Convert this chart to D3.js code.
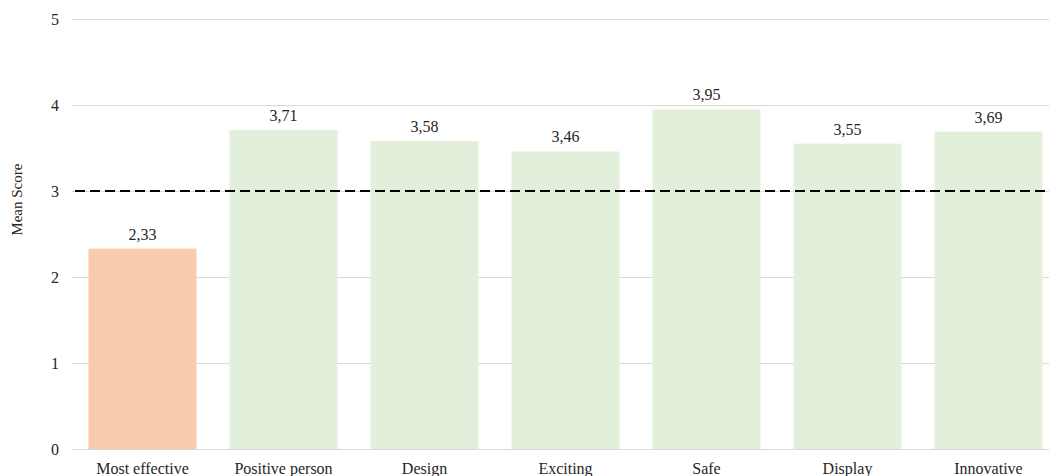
<!DOCTYPE html>
<html>
<head>
<meta charset="utf-8">
<script src="https://cdn.jsdelivr.net/npm/d3@7"></script>
<style>
  body { margin: 0; background: #fff; }
  text { font-family: "Liberation Serif", "Times New Roman", serif; fill: #262626; }
</style>
</head>
<body>
<div id="chart"></div>
<script>
const WIDTH = 1049;
const HEIGHT = 476;

const categories = ["Most effective", "Positive person", "Design", "Exciting", "Safe", "Display", "Innovative"];
const scores = [2.33, 3.71, 3.58, 3.46, 3.95, 3.55, 3.69];
const yTicks = [0, 1, 2, 3, 4, 5];
const threshold = 3;

const MARGIN = { TOP: 19, BOTTOM: 27, LEFT: 72, RIGHT: -10 };
const innerW = WIDTH - MARGIN.LEFT - MARGIN.RIGHT;
const innerH = HEIGHT - MARGIN.TOP - MARGIN.BOTTOM;

const svg = d3.select("#chart").append("svg")
    .attr("width", WIDTH)
    .attr("height", HEIGHT);

const g = svg.append("g")
    .attr("transform", `translate(${MARGIN.LEFT}, ${MARGIN.TOP})`);

const x = d3.scaleBand()
    .domain(categories)
    .range([0, innerW])
    .paddingInner(33 / 141)
    .paddingOuter(16.5 / 141);

const y = d3.scaleLinear().domain([0, 5]).range([innerH, 0]);

// gridlines
g.append("g")
  .selectAll("line")
  .data(yTicks)
  .join("line")
    .attr("x1", 0)
    .attr("x2", innerW)
    .attr("y1", d => y(d) + 0.5)
    .attr("y2", d => y(d) + 0.5)
    .attr("stroke", "#d9d9d9")
    .attr("stroke-width", 1);

// y tick labels
g.append("g")
  .selectAll("text")
  .data(yTicks)
  .join("text")
    .attr("x", -13)
    .attr("y", d => y(d))
    .attr("dy", "0.35em")
    .attr("text-anchor", "end")
    .attr("font-size", 16)
    .text(d => d);

// bars
g.append("g")
  .selectAll("rect")
  .data(scores)
  .join("rect")
    .attr("x", (d, i) => x(categories[i]))
    .attr("y", d => y(d))
    .attr("width", x.bandwidth())
    .attr("height", d => innerH - y(d))
    .attr("fill", (d, i) => i === 0 ? "#f8cbad" : "#e2efda");

// value labels
g.append("g")
  .selectAll("text")
  .data(scores)
  .join("text")
    .attr("x", (d, i) => x(categories[i]) + x.bandwidth() / 2)
    .attr("y", d => y(d) - 9)
    .attr("text-anchor", "middle")
    .attr("font-size", 16)
    .text(d => d.toFixed(2).replace(".", ","));

// threshold line
g.append("line")
    .attr("x1", 3)
    .attr("x2", innerW)
    .attr("y1", y(threshold))
    .attr("y2", y(threshold))
    .attr("stroke", "#000")
    .attr("stroke-width", 2)
    .attr("stroke-dasharray", "10,5");

// category labels
g.append("g")
  .selectAll("text")
  .data(categories)
  .join("text")
    .attr("x", d => x(d) + x.bandwidth() / 2)
    .attr("y", innerH + 25)
    .attr("text-anchor", "middle")
    .attr("font-size", 16)
    .text(d => d);

// y axis title
svg.append("text")
    .attr("transform", `translate(22, ${MARGIN.TOP + y(2.9)}) rotate(-90)`)
    .attr("text-anchor", "middle")
    .attr("font-size", 15)
    .text("Mean Score");
</script>
</body>
</html>
